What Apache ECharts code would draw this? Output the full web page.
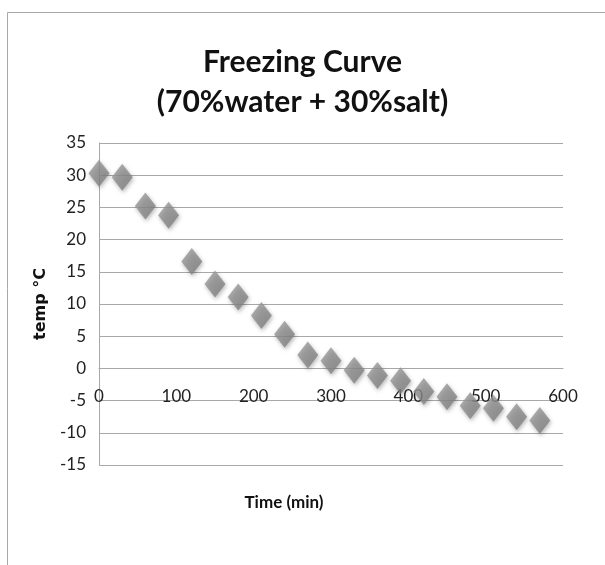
<!DOCTYPE html>
<html>
<head>
<meta charset="utf-8">
<script src="https://cdn.jsdelivr.net/npm/echarts@6/dist/echarts.min.js"></script>
<style>
html,body{margin:0;padding:0;background:#fff;}
#chart{width:605px;height:565px;}
</style>
</head>
<body>
<div id="chart"></div>
<script>
var titleLines = ["Freezing Curve", "(70%water + 30%salt)"];
var xName = "Time (min)";
var yName = "temp \u00B0C";
var timeMin = [0, 30, 60, 90, 120, 150, 180, 210, 240, 270, 300, 330, 360, 390, 420, 450, 480, 510, 540, 570];
var tempC = [30.3, 29.7, 25.2, 23.8, 16.6, 13.1, 11.1, 8.2, 5.3, 2.1, 1.2, -0.3, -1.1, -1.9, -3.6, -4.4, -5.8, -6.2, -7.5, -8.1];

var points = timeMin.map(function (t, i) { return [t, tempC[i]]; });

var labelFont = 'Lato';
var chart = echarts.init(document.getElementById('chart'), null, {renderer: 'canvas'});
chart.setOption({
  animation: false,
  backgroundColor: '#ffffff',
  title: {
    text: titleLines.join('\n'),
    left: 'center',
    top: 37,
    textStyle: {
      fontFamily: labelFont,
      fontWeight: 'bold',
      fontSize: 30,
      lineHeight: 40,
      color: '#111'
    }
  },
  graphic: [
    {type: 'line', shape: {x1: 7.5, y1: 12.5, x2: 605, y2: 12.5}, style: {stroke: '#a8a8a8', lineWidth: 1}},
    {type: 'line', shape: {x1: 7.5, y1: 12.5, x2: 7.5, y2: 565}, style: {stroke: '#a8a8a8', lineWidth: 1}}
  ],
  grid: {left: 99, right: 42, top: 143, bottom: 100, containLabel: false, outerBoundsMode: 'none'},
  xAxis: {
    type: 'value',
    min: 0, max: 600, interval: 100,
    name: xName,
    nameLocation: 'middle',
    nameGap: 126,
    offset: -97,
    nameTextStyle: {
      fontFamily: labelFont, fontWeight: 'bold', fontSize: 17, color: '#111',
      padding: [0, 94, 0, 0]
    },
    axisLine: {onZero: false, lineStyle: {color: '#a8a8a8', width: 1}},
    axisTick: {show: false},
    axisLabel: {margin: 20, fontFamily: labelFont, fontSize: 17, color: '#222'},
    splitLine: {show: false}
  },
  yAxis: {
    type: 'value',
    min: -15, max: 35, interval: 5,
    name: yName,
    nameLocation: 'middle',
    nameGap: 46,
    nameRotate: 90,
    nameTextStyle: {fontFamily: 'DejaVu Sans', fontWeight: 'bold', fontSize: 16, color: '#111'},
    axisLine: {show: true, onZero: false, lineStyle: {color: '#a8a8a8', width: 1}},
    axisTick: {show: false},
    axisLabel: {margin: 13, fontFamily: labelFont, fontSize: 17, color: '#222'},
    splitLine: {show: true, lineStyle: {color: '#a8a8a8', width: 1}}
  },
  series: [{
    type: 'scatter',
    data: points,
    symbol: 'diamond',
    symbolSize: [21, 27],
    itemStyle: {
      color: new echarts.graphic.LinearGradient(0, 0, 1, 1, [
        {offset: 0, color: '#a0a0a0'},
        {offset: 1, color: '#787878'}
      ]),
      shadowColor: 'rgba(0,0,0,0.35)',
      shadowBlur: 4,
      shadowOffsetX: 1,
      shadowOffsetY: 2
    }
  }]
});
</script>
</body>
</html>
